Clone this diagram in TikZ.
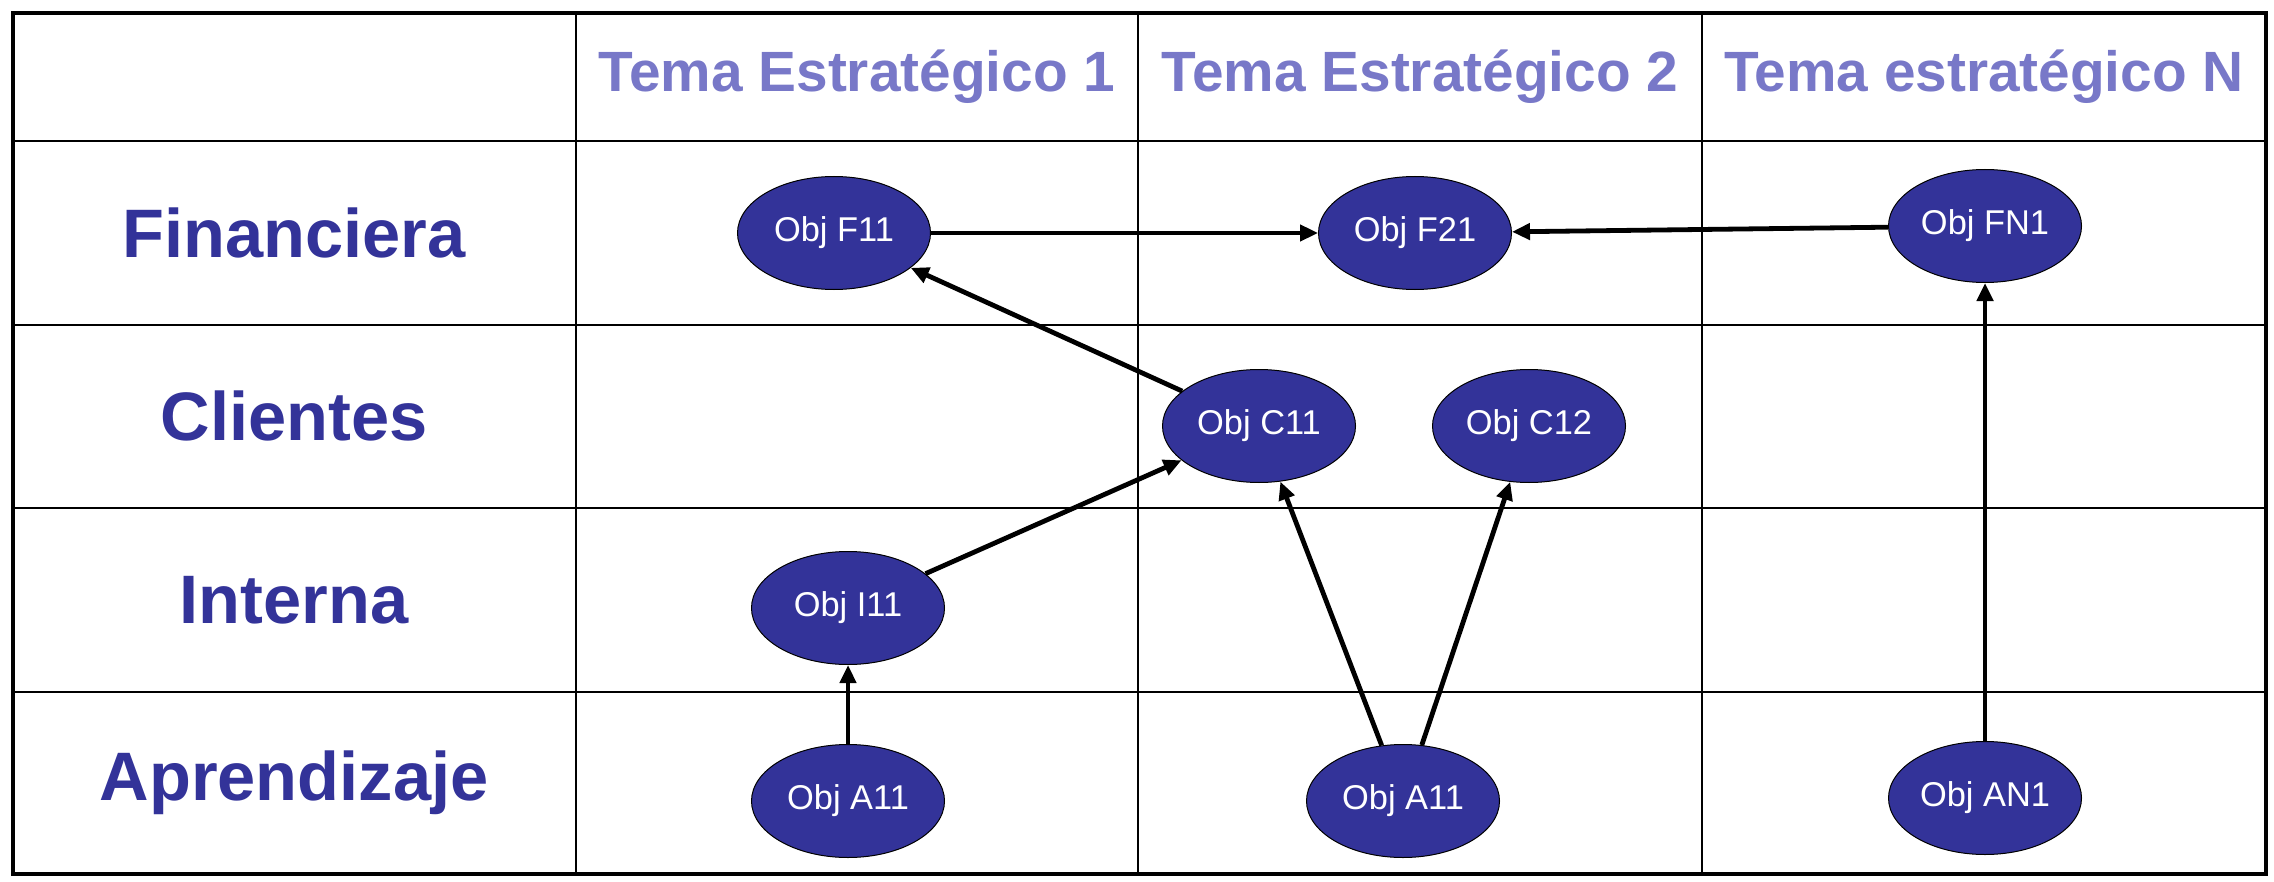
\documentclass[tikz,border=0pt]{standalone}
\usepackage{fontspec}
\setmainfont{Liberation Sans}
\usetikzlibrary{shapes.geometric,arrows.meta}
\definecolor{hdr}{HTML}{7878C8}
\definecolor{navy}{HTML}{333399}
\begin{document}
\begin{tikzpicture}[x=0.5pt,y=-0.5pt,
 obj/.style={ellipse,draw=black,line width=0.5pt,fill=navy,text=white,minimum width=96.5pt,minimum height=56.5pt,inner sep=0pt,font=\fontsize{17.2}{20}\selectfont},
 hdrtext/.style={text=hdr,font=\bfseries\fontsize{28.4}{32}\selectfont},
 rowtext/.style={text=navy,font=\bfseries\fontsize{34.3}{38}\selectfont},
 conn/.style={line width=2.4pt,-{Triangle[length=9pt,width=8pt]}},
 hline/.style={line width=1.3pt},
 vline/.style={line width=0.8pt}]
\useasboundingbox (0,0) rectangle (2274,882);
% grid
\foreach \y in {141,325,508,692} \draw[hline] (13,\y) -- (2266,\y);
\foreach \x in {576,1138,1702} \draw[vline] (\x,13) -- (\x,874);
\draw[line width=2.2pt] (13,13) rectangle (2266,874);
% headers
\node[hdrtext] (h1) at (857,77) {Tema Estratégico 1};
\node[hdrtext] (h2) at (1420,77) {Tema Estratégico 2};
\node[hdrtext] (h3) at (1984,77) {Tema estratégico N};
% row labels
\node[rowtext] (r1) at (294,233) {Financiera};
\node[rowtext] (r2) at (294,416) {Clientes};
\node[rowtext] (r3) at (294,600) {Interna};
\node[rowtext] (r4) at (294,783) {Aprendizaje};
% objectives
\node[obj] (F11) at (834,233) {Obj F11};
\node[obj] (F21) at (1415,233) {Obj F21};
\node[obj] (FN1) at (1985,226) {Obj FN1};
\node[obj] (C11) at (1259,426) {Obj C11};
\node[obj] (C12) at (1529,426) {Obj C12};
\node[obj] (I11) at (848,608) {Obj I11};
\node[obj] (A11a) at (848,801) {Obj A11};
\node[obj] (A11b) at (1403,801) {Obj A11};
\node[obj] (AN1) at (1985,798) {Obj AN1};
% connectors
\draw[conn] (F11) -- (F21);
\draw[conn] (FN1) -- (F21);
\draw[conn] (C11) -- (F11);
\draw[conn] (I11) -- (C11);
\draw[conn] (A11b) -- (C11);
\draw[conn] (A11b) -- (C12);
\draw[conn] (A11a) -- (I11);
\draw[conn] (AN1) -- (FN1);
\end{tikzpicture}
\end{document}
